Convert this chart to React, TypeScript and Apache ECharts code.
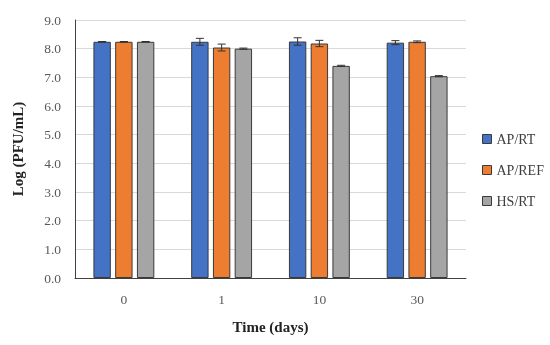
import React, { useEffect, useRef } from "react";
import * as echarts from "echarts";

const categories = ["0", "1", "10", "30"];
const seriesNames = ["AP/RT", "AP/REF", "HS/RT"];
const apRt = [8.24, 8.24, 8.25, 8.21];
const apRef = [8.24, 8.04, 8.18, 8.24];
const hsRt = [8.24, 8.0, 7.4, 7.04];
const apRtErr = [0.01, 0.12, 0.13, 0.07];
const apRefErr = [0.01, 0.12, 0.11, 0.03];
const hsRtErr = [0.01, 0.02, 0.02, 0.02];
const colors = ["#4472C4", "#ED7D31", "#A5A5A5"];
const yTicks = { min: 0, max: 9, interval: 1 };

const FONT = "'Liberation Serif', 'DejaVu Serif', serif";

export default function App() {
  const ref = useRef<HTMLDivElement>(null);
  useEffect(() => {
    const chart = echarts.init(ref.current!, null, { renderer: "svg" });
    const values = [apRt, apRef, hsRt];
    const errs = [apRtErr, apRefErr, hsRtErr];
    const barFrac = 0.178;
    const gapFrac = 0.25;
    const barSeries: any[] = values.map((v, i) => ({
      name: seriesNames[i],
      type: "bar",
      data: v,
      barWidth: barFrac * 100 + "%",
      barGap: gapFrac * 100 + "%",
      itemStyle: { color: colors[i], borderColor: "#3a3a3a", borderWidth: 1 },
    }));
    const errSeries: any[] = values.map((v, i) => ({
      type: "custom",
      name: seriesNames[i] + " err",
      z: 10,
      data: v.map((val, k) => [k, val, errs[i][k]]),
      renderItem: (params: any, api: any) => {
        const k = api.value(0);
        const val = api.value(1);
        const e = api.value(2);
        const band = api.size([1, 0])[0];
        const offset = (i - 1) * band * barFrac * (1 + gapFrac);
        const top = api.coord([k, val + e]);
        const bot = api.coord([k, val - e]);
        const x = top[0] + offset;
        const cap = 4;
        const style = { stroke: "#333", lineWidth: 1 };
        return {
          type: "group",
          children: [
            { type: "line", shape: { x1: x, y1: top[1], x2: x, y2: bot[1] }, style },
            { type: "line", shape: { x1: x - cap, y1: top[1], x2: x + cap, y2: top[1] }, style },
            { type: "line", shape: { x1: x - cap, y1: bot[1], x2: x + cap, y2: bot[1] }, style },
          ],
        };
      },
    }));
    chart.setOption({
      animation: false,
      textStyle: { fontFamily: FONT },
      grid: { left: 75, right: 84, top: 20, bottom: 67 },
      legend: {
        data: seriesNames,
        orient: "vertical",
        left: 482,
        top: 132,
        padding: 0,
        itemWidth: 9,
        itemHeight: 9,
        itemGap: 17,
        icon: "rect",
        textStyle: { fontFamily: FONT, fontSize: 14, color: "#404040" },
        itemStyle: { borderColor: "#3a3a3a", borderWidth: 1 },
      },
      xAxis: {
        type: "category",
        data: categories,
        name: "Time (days)",
        nameLocation: "middle",
        nameGap: 41,
        nameTextStyle: { fontFamily: FONT, fontSize: 15, fontWeight: "bold", color: "#222" },
        axisLine: { lineStyle: { color: "#404040" } },
        axisTick: { show: false },
        axisLabel: { fontFamily: FONT, fontSize: 13.5, color: "#595959", margin: 14 },
      },
      yAxis: {
        type: "value",
        min: yTicks.min,
        max: yTicks.max,
        interval: yTicks.interval,
        name: "Log (PFU/mL)",
        nameLocation: "middle",
        nameGap: 50,
        nameTextStyle: { fontFamily: FONT, fontSize: 15, fontWeight: "bold", color: "#222" },
        axisLine: { show: true, lineStyle: { color: "#404040" } },
        axisTick: { show: false },
        axisLabel: {
          fontFamily: FONT,
          fontSize: 13.5,
          color: "#595959",
          margin: 14,
          formatter: (v: number) => v.toFixed(1),
        },
        splitLine: { lineStyle: { color: "#d9d9d9" } },
      },
      series: [...barSeries, ...errSeries],
    });
    return () => chart.dispose();
  }, []);
  return (
    <div
      ref={ref}
      style={{ position: "fixed", left: 0, top: 0, width: 550, height: 345 }}
    />
  );
}
